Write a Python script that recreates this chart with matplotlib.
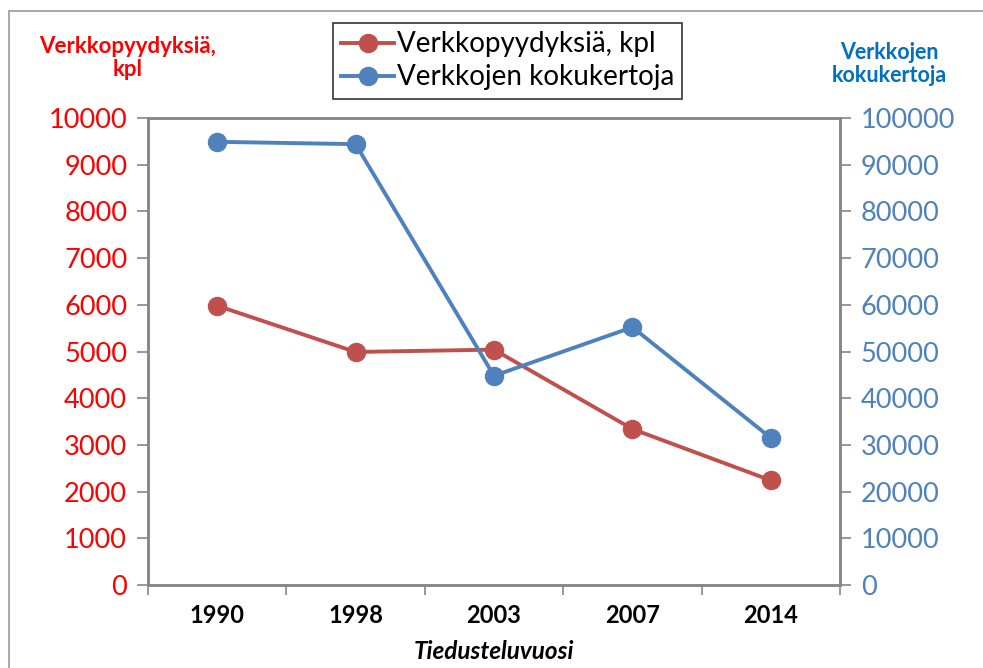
import matplotlib
matplotlib.use("Agg")
import matplotlib.pyplot as plt
from matplotlib.patches import Rectangle
from matplotlib.lines import Line2D

years = ["1990", "1998", "2003", "2007", "2014"]
verkkopyydyksia = [5980, 4990, 5040, 3340, 2240]
kokukertoja = [94900, 94400, 44800, 55200, 31500]
left_ticks = list(range(0, 10001, 1000))
right_ticks = list(range(0, 100001, 10000))

plt.rcParams['font.family'] = ['Lato', 'DejaVu Sans']

W, H = 983, 668
fig = plt.figure(figsize=(W / 100, H / 100), dpi=100)
fig.patch.set_facecolor('white')

# outer chart frame
fig.patches.append(Rectangle((9 / W, -0.1), 1.2, (H - 11) / H + 0.1, transform=fig.transFigure,
                             fill=False, edgecolor='#9a9a9a', linewidth=1.2, zorder=0))

ax = fig.add_axes([148 / W, (H - 585) / H, (840 - 148) / W, (585 - 118) / H])
ax2 = ax.twinx()

red = '#C0504D'
blue = '#4F81BD'
gray = '#868686'

x = list(range(len(years)))
ax.plot(x, verkkopyydyksia, color=red, lw=2.8, marker='o', ms=13, zorder=3)
ax2.plot(x, kokukertoja, color=blue, lw=2.8, marker='o', ms=13, zorder=3)

ax.set_xlim(-0.5, len(years) - 0.5)
ax.set_ylim(0, 10000)
ax2.set_ylim(0, 100000)

ax.set_xticks(x)
ax.set_xticklabels(years, fontsize=17, fontweight='bold', color='black')
ax.set_xticks([i - 0.5 for i in range(len(years) + 1)], minor=True)
ax.tick_params(axis='x', which='major', length=0, pad=14)
ax.tick_params(axis='x', which='minor', length=7, width=1.2, color=gray, direction='out')

ax.set_yticks(left_ticks)
ax.set_yticklabels([str(v) for v in left_ticks], fontsize=19.5, color='#FF0000')
ax.tick_params(axis='y', length=8, width=1.2, color=gray, direction='out', pad=7)

ax2.set_yticks(right_ticks)
ax2.set_yticklabels([str(v) for v in right_ticks], fontsize=19.5, color=blue)
ax2.tick_params(axis='y', length=8, width=1.2, color=gray, direction='out', pad=7)

for a in (ax, ax2):
    for s in a.spines.values():
        s.set_color(gray)
        s.set_linewidth(1.8)

ax.set_xlabel('Tiedusteluvuosi', fontsize=17.5, fontweight='bold', fontstyle='italic', labelpad=9)

fig.text(128 / W, 1 - 58 / H, 'Verkkopyydyksiä,\nkpl', ha='center', va='center', color='#FF0000',
         fontsize=16, fontweight='bold', linespacing=1.15)
fig.text(889 / W, 1 - 64 / H, 'Verkkojen\nkokukertoja', ha='center', va='center', color='#0070C0',
         fontsize=15.5, fontweight='bold', linespacing=1.15)

handles = [Line2D([], [], color=red, lw=2.8, marker='o', ms=13),
           Line2D([], [], color=blue, lw=2.8, marker='o', ms=13)]
leg = fig.legend(handles, ['Verkkopyydyksiä, kpl', 'Verkkojen kokukertoja'],
                 loc='upper left', bbox_to_anchor=(333 / W, 1 - 23 / H),
                 bbox_transform=fig.transFigure, fontsize=20, frameon=True, fancybox=False,
                 handlelength=1.9, handletextpad=0.1, borderpad=0.3, labelspacing=0.25,
                 borderaxespad=0)
leg.get_frame().set_edgecolor('black')
leg.get_frame().set_linewidth(1.2)

fig.savefig('out.png', dpi=100)
